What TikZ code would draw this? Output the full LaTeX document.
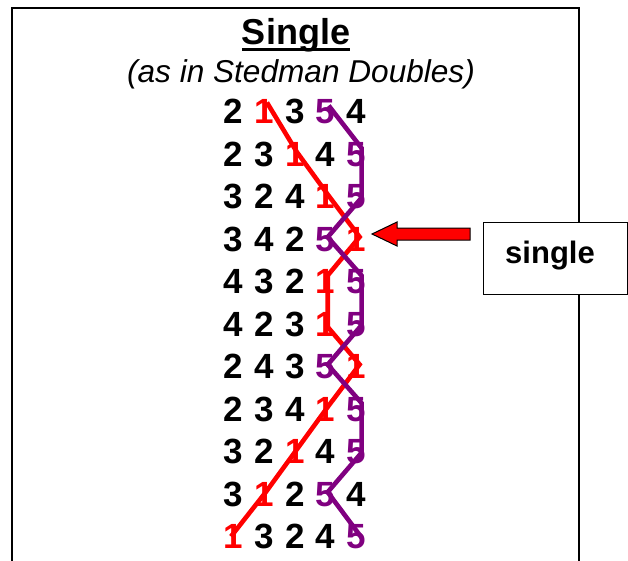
\documentclass[tikz,border=0pt]{standalone}
\usepackage{fontspec}
\setmainfont{Liberation Sans}
\definecolor{bellpurple}{HTML}{800080}
\colorlet{bellc1}{red}
\colorlet{bellc2}{black}
\colorlet{bellc3}{black}
\colorlet{bellc4}{black}
\colorlet{bellc5}{bellpurple}
\begin{document}
\begin{tikzpicture}[x=1pt,y=-1pt,
  digit/.style={font=\fontsize{35}{40}\selectfont\bfseries, inner sep=0pt, anchor=base},
  frame/.style={line width=2pt},
  redline/.style={draw=red, line width=4.6pt, line join=miter},
  purpleline/.style={draw=bellpurple, line width=4.6pt, line join=miter},
  blockarrow/.style={fill=red, draw=black, line width=1pt, line join=miter},
  labelbox/.style={draw=black, fill=white, line width=1.3pt, inner sep=0pt,
    minimum width=144pt, minimum height=72pt, anchor=north west},
  labeltext/.style={font=\fontsize{31}{36}\selectfont\bfseries, inner sep=0pt, anchor=base}
]
\useasboundingbox (0,0) rectangle (628,560);
\fill[white] (0,0) rectangle (628,560);
% outer frame (bottom edge lies below the picture)
\draw[frame] (12,580) -- (12,8) -- (579,8) -- (579,580);
% title
\node[font=\fontsize{36}{40}\selectfont\bfseries, inner sep=0pt, anchor=base] (title) at (296,44) {Single};
\draw[line width=3pt] ([yshift=-5pt]title.base west) -- ([yshift=-5pt]title.base east);
\node[font=\fontsize{31.6}{36}\selectfont\itshape, inner sep=0pt, anchor=base] (subtitle) at (301,82) {(as in Stedman Doubles)};
% rows of bells
\foreach \r/\digits in {1/{2,1,3,5,4},2/{2,3,1,4,5},3/{3,2,4,1,5},4/{3,4,2,5,1},5/{4,3,2,1,5},
    6/{4,2,3,1,5},7/{2,4,3,5,1},8/{2,3,4,1,5},9/{3,2,1,4,5},10/{3,1,2,5,4},11/{1,3,2,4,5}}{
  \foreach \d [count=\c] in \digits {
    \pgfmathsetmacro{\xx}{233+30.9*(\c-1)}
    \pgfmathsetmacro{\yy}{111+42.5*(\r-1)+12.5}
    \node[digit, text=bellc\d] (r\r c\c) at (\xx,\yy) {\d};
  }
}
% path of bell 1 (red)
\draw[redline] ([shift={(3pt,9pt)}]r1c2.center) -- ([shift={(2pt,2pt)}]r2c3.center)
  -- ([shift={(2pt,2pt)}]r3c4.center) -- ([shift={(3pt,2pt)}]r4c5.center)
  -- ([shift={(2pt,6pt)}]r5c4.center) -- ([shift={(2pt,-3pt)}]r6c4.center)
  -- ([shift={(3pt,2pt)}]r7c5.center) -- ([shift={(2pt,2pt)}]r8c4.center)
  -- ([shift={(2pt,2pt)}]r9c3.center) -- ([shift={(2pt,2pt)}]r10c2.center)
  -- ([shift={(-2pt,0pt)}]r11c1.center);
% path of bell 5 (purple)
\draw[purpleline] ([shift={(3pt,6pt)}]r1c4.center) -- ([shift={(5pt,6pt)}]r2c5.center)
  -- ([shift={(5pt,-1pt)}]r3c5.center) -- ([shift={(2pt,2pt)}]r4c4.center)
  -- ([shift={(5pt,6pt)}]r5c5.center) -- ([shift={(5pt,-1pt)}]r6c5.center)
  -- ([shift={(2pt,2pt)}]r7c4.center) -- ([shift={(5pt,6pt)}]r8c5.center)
  -- ([shift={(5pt,-1pt)}]r9c5.center) -- ([shift={(2pt,2pt)}]r10c4.center)
  -- ([shift={(5pt,-1pt)}]r11c5.center);
% block arrow
\coordinate (tip) at (372,234);
\draw[blockarrow] (tip) -- (397,222) -- (397,228) -- (470,228) -- (470,240)
  -- (397,240) -- (397,246) -- cycle;
% label box
\node[labelbox] (singlebox) at (483,222) {};
\node[labeltext] (singletext) at (550,263) {single};
\end{tikzpicture}
\end{document}
